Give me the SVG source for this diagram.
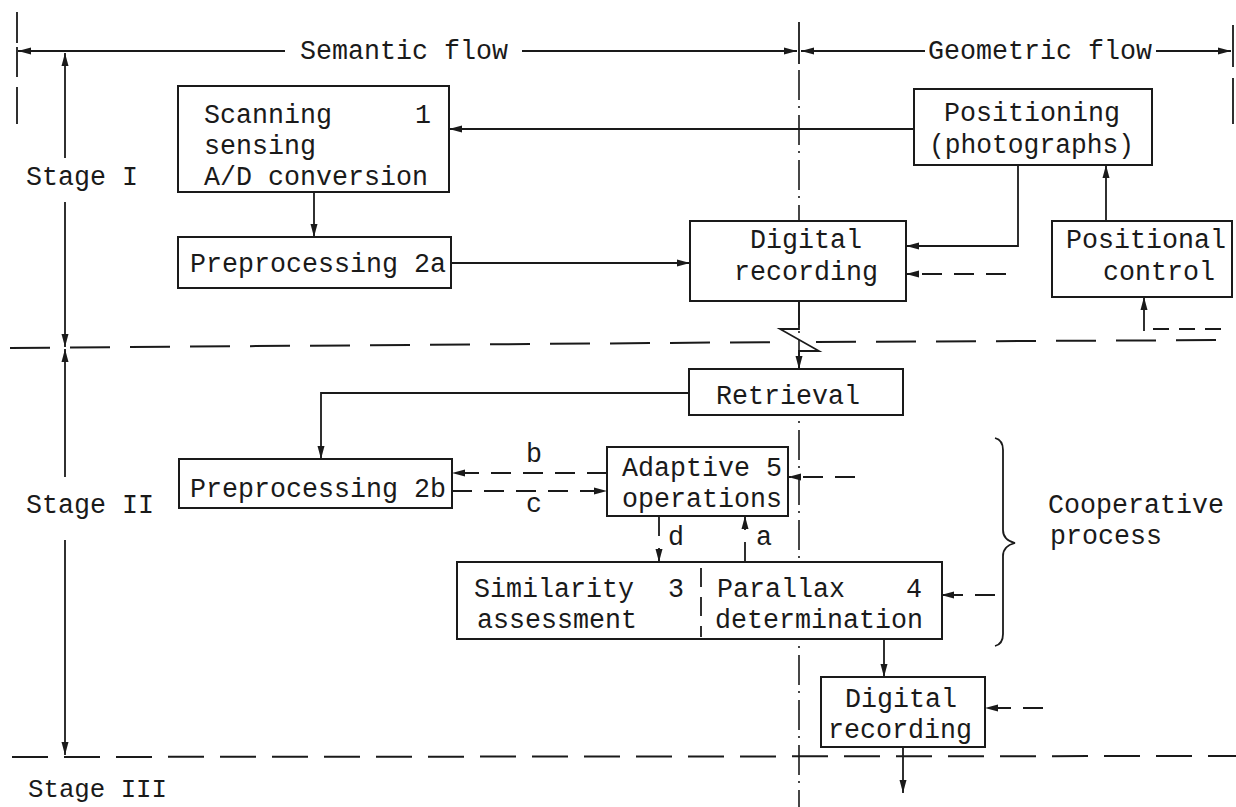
<svg xmlns="http://www.w3.org/2000/svg" width="1236" height="807" viewBox="0 0 1236 807">
<defs>
<marker id="ah" markerUnits="userSpaceOnUse" markerWidth="14" markerHeight="8" refX="13" refY="4" orient="auto">
<path d="M0,0.5 L13,4 L0,7.5 z" fill="#1a1a1a"/>
</marker>
<style>
.ln{stroke:#1a1a1a;stroke-width:1.8;fill:none}
.ar{marker-end:url(#ah)}
.da{stroke-dasharray:20 12}
.box{fill:#fff;stroke:#1a1a1a;stroke-width:2}
.dd{stroke:#1a1a1a;stroke-width:1.6;fill:none;stroke-dasharray:30 6 2 7}
.hd{stroke:#1a1a1a;stroke-width:2;fill:none}
text{font-family:"Liberation Mono","Courier New",monospace;font-size:27px;fill:#1a1a1a}
</style>
</defs>
<rect width="1236" height="807" fill="#fff"/>

<g id="frame">
<path class="ln" d="M17,12V43 M17,47V77 M17,87V124"/>
<path class="ln" d="M1233,25V67 M1233,78V124"/>
<path class="ln" d="M799,22V64"/>
<path class="dd" d="M799,70V807"/>
<path class="hd" style="stroke-dasharray:40 20" d="M10,348 L790,342"/>
<path class="hd" style="stroke-dasharray:40 20" d="M816,342 L1236,340"/>
<path class="hd" style="stroke-dasharray:36 16" d="M12,757 L1236,756"/>
<path class="ln ar" d="M285,51H18"/>
<path class="ln ar" d="M522,51H797"/>
<path class="ln ar" d="M925,51H801"/>
<path class="ln ar" d="M1156,51H1231"/>
<text x="300" y="59" textLength="208" lengthAdjust="spacingAndGlyphs">Semantic flow</text>
<text x="928" y="59" textLength="224" lengthAdjust="spacingAndGlyphs">Geometric flow</text>
<path class="ln ar" d="M65,158V53"/>
<path class="ln ar" d="M65,202V347"/>
<path class="ln ar" d="M65,477V349"/>
<path class="ln ar" d="M65,540V755"/>
<text x="26" y="185" textLength="112" lengthAdjust="spacingAndGlyphs">Stage I</text>
<text x="26" y="513" textLength="128" lengthAdjust="spacingAndGlyphs">Stage II</text>
<text x="28" y="797" textLength="139" lengthAdjust="spacingAndGlyphs" style="font-size:26px">Stage III</text>
</g>

<g id="connectors">
<path class="ln ar" d="M914,129H449"/>
<path class="ln ar" d="M314,192V237"/>
<path class="ln ar" d="M451,263H690"/>
<path class="ln ar" d="M1018,165V246H906"/>
<path class="ln ar da" d="M1006,274H906"/>
<path class="ln ar" d="M1106,221V165"/>
<path class="ln" style="stroke-dasharray:16 10" d="M1221,329H1146"/>
<path class="ln ar" d="M1144,331V297"/>
<path class="ln ar" d="M799,301V329H780L819,351H799V369"/>
<path class="ln ar" d="M689,393H321V459"/>
<path class="ln ar da" d="M607,473H452"/>
<path class="ln ar da" d="M452,491H607"/>
<path class="ln ar da" d="M855,477H788"/>
<path class="ln ar da" d="M659,516V562"/>
<path class="ln ar da" d="M745,562V516"/>
<path class="ln ar da" d="M995,595H941"/>
<path class="ln ar" d="M884,639V677"/>
<path class="ln ar da" d="M1043,708H985"/>
<path class="ln ar" d="M903,747V793"/>
<text x="526" y="462" textLength="16" lengthAdjust="spacingAndGlyphs">b</text>
<text x="526" y="512" textLength="16" lengthAdjust="spacingAndGlyphs">c</text>
<text x="668" y="545" textLength="16" lengthAdjust="spacingAndGlyphs">d</text>
<text x="756" y="545" textLength="16" lengthAdjust="spacingAndGlyphs">a</text>
</g>

<g id="n1">
<rect class="box" x="178" y="86" width="271" height="106"/>
<text x="204" y="123" textLength="128" lengthAdjust="spacingAndGlyphs">Scanning</text>
<text x="415" y="123" textLength="16" lengthAdjust="spacingAndGlyphs">1</text>
<text x="204" y="154" textLength="112" lengthAdjust="spacingAndGlyphs">sensing</text>
<text x="204" y="185" textLength="224" lengthAdjust="spacingAndGlyphs">A/D conversion</text>
</g>
<g id="n2a">
<rect class="box" x="178" y="237" width="273" height="51"/>
<text x="190" y="272" textLength="256" lengthAdjust="spacingAndGlyphs">Preprocessing 2a</text>
</g>
<g id="positioning">
<rect class="box" x="914" y="89" width="238" height="76"/>
<text x="944" y="121" textLength="176" lengthAdjust="spacingAndGlyphs">Positioning</text>
<text x="929" y="153" textLength="205" lengthAdjust="spacingAndGlyphs">(photographs)</text>
</g>
<g id="digrec1">
<rect class="box" x="690" y="221" width="216" height="80"/>
<text x="750" y="248" textLength="112" lengthAdjust="spacingAndGlyphs">Digital</text>
<text x="734" y="280" textLength="144" lengthAdjust="spacingAndGlyphs">recording</text>
</g>
<g id="posctrl">
<rect class="box" x="1052" y="221" width="180" height="76"/>
<text x="1066" y="248" textLength="160" lengthAdjust="spacingAndGlyphs">Positional</text>
<text x="1103" y="280" textLength="112" lengthAdjust="spacingAndGlyphs">control</text>
</g>
<g id="retrieval">
<rect class="box" x="689" y="369" width="214" height="46"/>
<text x="716" y="404" textLength="144" lengthAdjust="spacingAndGlyphs">Retrieval</text>
</g>
<g id="n2b">
<rect class="box" x="179" y="459" width="273" height="49"/>
<text x="190" y="497" textLength="256" lengthAdjust="spacingAndGlyphs">Preprocessing 2b</text>
</g>
<g id="n5">
<rect class="box" x="607" y="447" width="181" height="69"/>
<text x="622" y="476" textLength="160" lengthAdjust="spacingAndGlyphs">Adaptive 5</text>
<text x="622" y="507" textLength="160" lengthAdjust="spacingAndGlyphs">operations</text>
</g>
<g id="n34">
<rect class="box" x="457" y="562" width="485" height="77"/>
<path class="ln" style="stroke-dasharray:19 10" d="M701,568V637"/>
<text x="474" y="597" textLength="160" lengthAdjust="spacingAndGlyphs">Similarity</text>
<text x="668" y="597" textLength="16" lengthAdjust="spacingAndGlyphs">3</text>
<text x="477" y="628" textLength="160" lengthAdjust="spacingAndGlyphs">assessment</text>
<text x="717" y="597" textLength="128" lengthAdjust="spacingAndGlyphs">Parallax</text>
<text x="906" y="597" textLength="16" lengthAdjust="spacingAndGlyphs">4</text>
<text x="715" y="628" textLength="208" lengthAdjust="spacingAndGlyphs">determination</text>
</g>
<g id="digrec2">
<rect class="box" x="821" y="677" width="164" height="70"/>
<text x="845" y="707" textLength="112" lengthAdjust="spacingAndGlyphs">Digital</text>
<text x="828" y="738" textLength="144" lengthAdjust="spacingAndGlyphs">recording</text>
</g>
<g id="coop">
<path class="ln" d="M995,438Q1003,440 1003,450V530Q1003,540 1015,543Q1003,546 1003,556V634Q1003,644 995,646"/>
<text x="1048" y="513" textLength="176" lengthAdjust="spacingAndGlyphs">Cooperative</text>
<text x="1050" y="544" textLength="112" lengthAdjust="spacingAndGlyphs">process</text>
</g>
</svg>
